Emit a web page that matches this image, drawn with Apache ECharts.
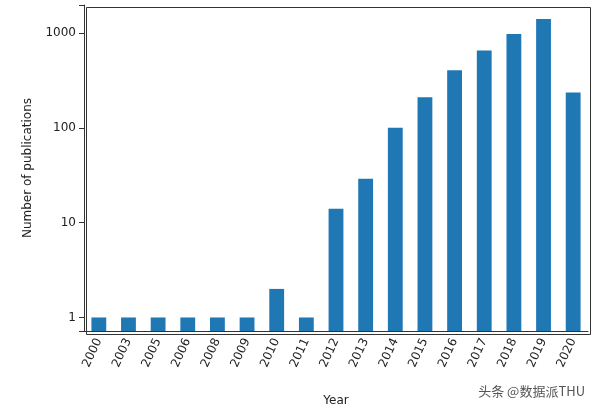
<!DOCTYPE html><html><head><meta charset="utf-8"><script src="https://cdn.jsdelivr.net/npm/echarts@6/dist/echarts.min.js"></script></head><body style="margin:0"><div id="c" style="width:597px;height:412px"></div><script>
const years=['2000','2003','2005','2006','2008','2009','2010','2011','2012','2013','2014','2015','2016','2017','2018','2019','2020'];
const counts=[1,1,1,1,1,1,2,1,14,29,100,210,404,652,972,1400,236];
const yMin=0.72,yMax=1970;
const ch=echarts.init(document.getElementById('c'));
ch.setOption({animation:false,
grid:{left:84,right:9,top:5,bottom:80},
xAxis:{type:'category',data:years,name:'Year',nameLocation:'middle',nameGap:64,nameTextStyle:{color:'#222',fontSize:12,fontFamily:'DejaVu Sans'},
 axisLine:{lineStyle:{color:'#333'}},axisTick:{alignWithLabel:true,lineStyle:{color:'#333'}},
 axisLabel:{rotate:65,color:'#222',fontSize:12,fontFamily:'DejaVu Sans',interval:0}},
yAxis:[{type:'value',min:0,max:Math.log10(yMax/yMin),show:false,splitLine:{show:false}},
 {type:'log',logBase:10,min:yMin,max:yMax,position:'left',name:'Number of publications',nameLocation:'middle',nameGap:50,nameTextStyle:{color:'#222',fontSize:12,fontFamily:'DejaVu Sans'},
 splitLine:{show:false},axisLine:{show:true,lineStyle:{color:'#333'}},axisTick:{show:true,lineStyle:{color:'#333'}},
 axisLabel:{color:'#222',fontSize:12,fontFamily:'DejaVu Sans',formatter:v=>{const l=Math.log10(v);return Math.abs(l-Math.round(l))<1e-6?String(Math.round(v)):'';}}}],
series:[{type:'bar',yAxisIndex:0,data:counts.map(v=>Math.log10(v/yMin)),barWidth:'50%',itemStyle:{color:'#1f77b4'}}],
graphic:[{type:'rect',left:84,top:5,shape:{width:504,height:327},style:{fill:'none',stroke:'#333',lineWidth:1}},
 {type:'text',right:12,bottom:14,style:{text:'头条 @数据派THU',fill:'#555',font:'13px "Noto Sans CJK SC"'}}]
});
</script></body></html>
